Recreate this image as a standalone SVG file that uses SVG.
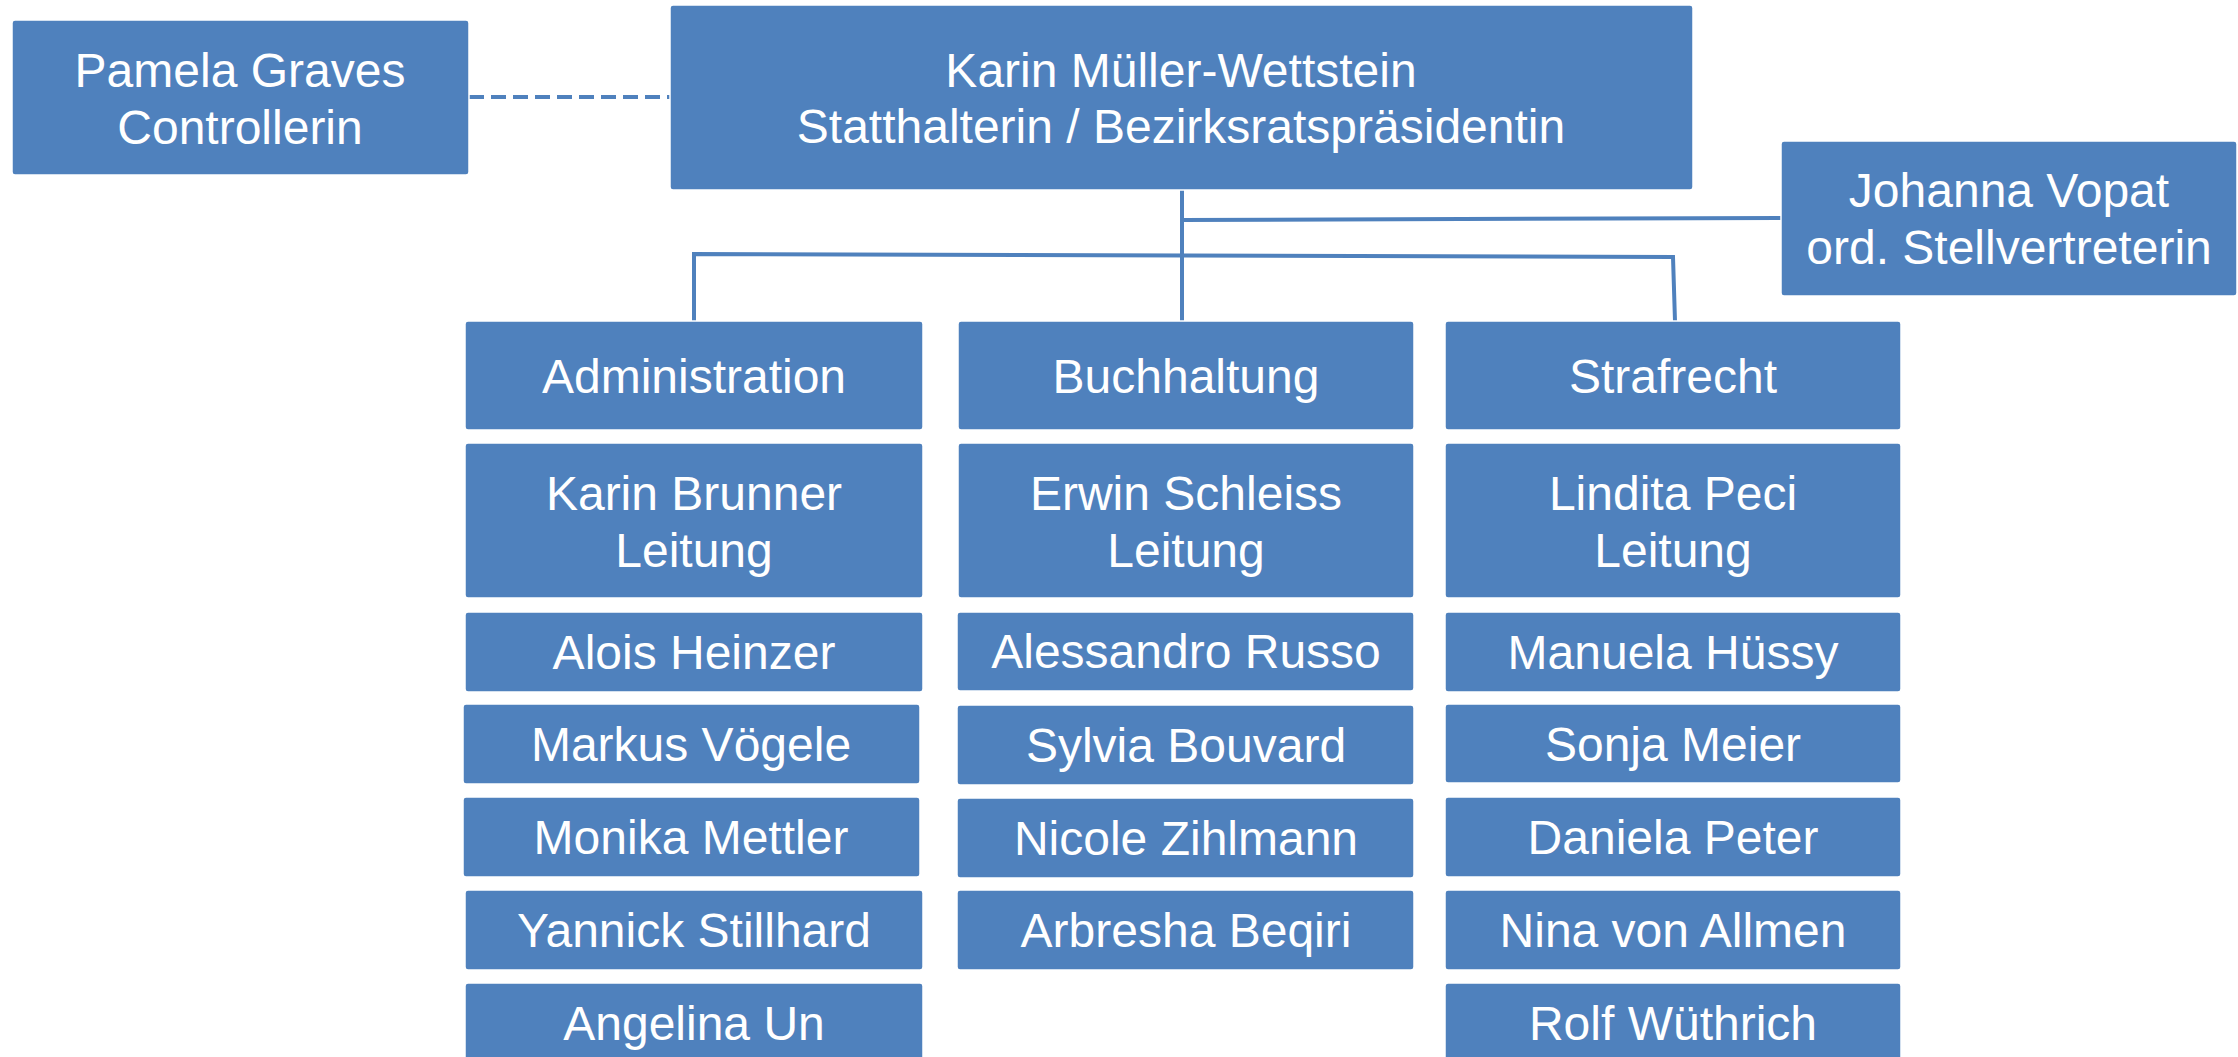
<svg xmlns="http://www.w3.org/2000/svg" width="2238" height="1057" viewBox="0 0 2238 1057">
<style>
.box{fill:#4F81BD;stroke:#ffffff;stroke-width:1.5}
.t{font-family:"Liberation Sans",Arial,sans-serif;font-size:48px;fill:#ffffff;text-anchor:middle}
.c{stroke:#4F81BD;stroke-width:4;fill:none}
.d{stroke:#4F81BD;stroke-width:4;fill:none;stroke-dasharray:15 7}
</style>
<rect width="2238" height="1057" fill="#ffffff"/>
<g id="connectors">
<line class="d" x1="469" y1="97" x2="670" y2="97"/>
<line class="c" x1="1182" y1="190" x2="1182" y2="321"/>
<line class="c" x1="1182" y1="220" x2="1781" y2="218"/>
<polyline class="c" points="694,321 694,254 1673,257 1675,321"/>
</g>
<g id="pamela"><rect class="box" x="12" y="20" width="457" height="155" rx="3"/><text class="t" x="240" y="87">Pamela Graves</text><text class="t" x="240" y="144">Controllerin</text></g>
<g id="karin-mw"><rect class="box" x="670" y="5" width="1023" height="185" rx="3"/><text class="t" x="1181" y="87">Karin Müller-Wettstein</text><text class="t" x="1181" y="143">Statthalterin / Bezirksratspräsidentin</text></g>
<g id="johanna"><rect class="box" x="1781" y="141" width="456" height="155" rx="3"/><text class="t" x="2009" y="207">Johanna Vopat</text><text class="t" x="2009" y="264">ord. Stellvertreterin</text></g>

<g id="administration"><rect class="box" x="465" y="321" width="458" height="109" rx="3"/><text class="t" x="694" y="393">Administration</text></g>
<g id="karin-brunner"><rect class="box" x="465" y="443" width="458" height="155" rx="3"/><text class="t" x="694" y="510">Karin Brunner</text><text class="t" x="694" y="567">Leitung</text></g>
<g id="alois"><rect class="box" x="465" y="612" width="458" height="80" rx="3"/><text class="t" x="694" y="669">Alois Heinzer</text></g>
<g id="markus"><rect class="box" x="463" y="704" width="457" height="80" rx="3"/><text class="t" x="691" y="761">Markus Vögele</text></g>
<g id="monika"><rect class="box" x="463" y="797" width="457" height="80" rx="3"/><text class="t" x="691" y="854">Monika Mettler</text></g>
<g id="yannick"><rect class="box" x="465" y="890" width="458" height="80" rx="3"/><text class="t" x="694" y="947">Yannick Stillhard</text></g>
<g id="angelina"><rect class="box" x="465" y="983" width="458" height="80" rx="3"/><text class="t" x="694" y="1040">Angelina Un</text></g>

<g id="buchhaltung"><rect class="box" x="958" y="321" width="456" height="109" rx="3"/><text class="t" x="1186" y="393">Buchhaltung</text></g>
<g id="erwin"><rect class="box" x="958" y="443" width="456" height="155" rx="3"/><text class="t" x="1186" y="510">Erwin Schleiss</text><text class="t" x="1186" y="567">Leitung</text></g>
<g id="alessandro"><rect class="box" x="957" y="612" width="457" height="79" rx="3"/><text class="t" x="1186" y="668">Alessandro Russo</text></g>
<g id="sylvia"><rect class="box" x="957" y="705" width="457" height="80" rx="3"/><text class="t" x="1186" y="762">Sylvia Bouvard</text></g>
<g id="nicole"><rect class="box" x="957" y="798" width="457" height="80" rx="3"/><text class="t" x="1186" y="855">Nicole Zihlmann</text></g>
<g id="arbresha"><rect class="box" x="957" y="890" width="457" height="80" rx="3"/><text class="t" x="1186" y="947">Arbresha Beqiri</text></g>

<g id="strafrecht"><rect class="box" x="1445" y="321" width="456" height="109" rx="3"/><text class="t" x="1673" y="393">Strafrecht</text></g>
<g id="lindita"><rect class="box" x="1445" y="443" width="456" height="155" rx="3"/><text class="t" x="1673" y="510">Lindita Peci</text><text class="t" x="1673" y="567">Leitung</text></g>
<g id="manuela"><rect class="box" x="1445" y="612" width="456" height="80" rx="3"/><text class="t" x="1673" y="669">Manuela Hüssy</text></g>
<g id="sonja"><rect class="box" x="1445" y="704" width="456" height="79" rx="3"/><text class="t" x="1673" y="761">Sonja Meier</text></g>
<g id="daniela"><rect class="box" x="1445" y="797" width="456" height="80" rx="3"/><text class="t" x="1673" y="854">Daniela Peter</text></g>
<g id="nina"><rect class="box" x="1445" y="890" width="456" height="80" rx="3"/><text class="t" x="1673" y="947">Nina von Allmen</text></g>
<g id="rolf"><rect class="box" x="1445" y="983" width="456" height="80" rx="3"/><text class="t" x="1673" y="1040">Rolf Wüthrich</text></g>
</svg>
